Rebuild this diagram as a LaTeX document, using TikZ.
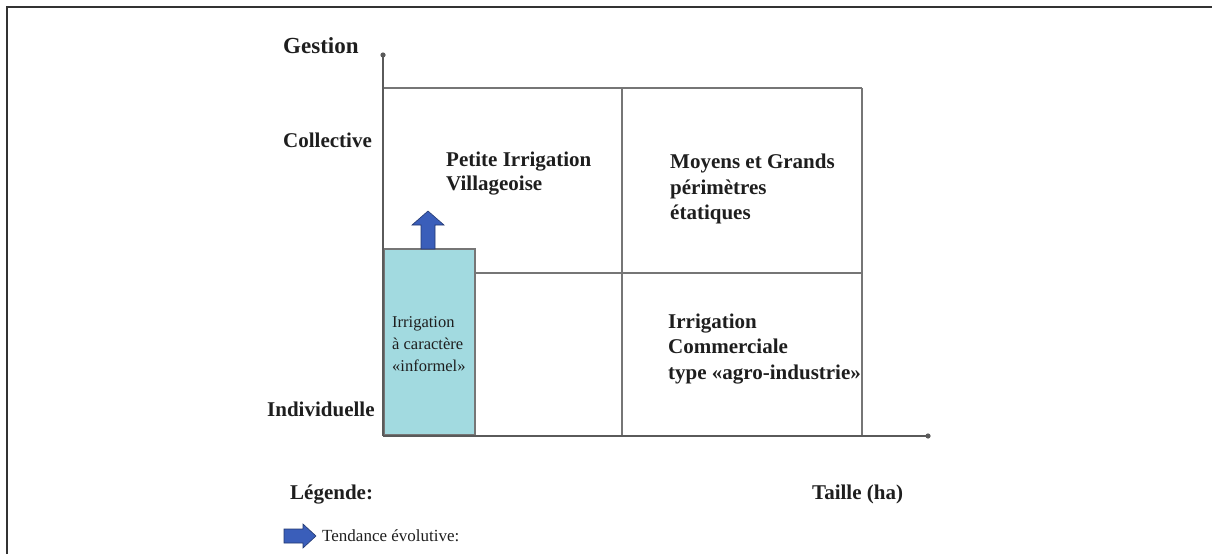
\documentclass[tikz,border=0pt]{standalone}
\usepackage{fontspec}
\setmainfont{Liberation Serif}
\definecolor{gridc}{HTML}{767676}
\definecolor{axisc}{HTML}{5A5A5A}
\definecolor{boxfill}{HTML}{A2DAE0}
\definecolor{arrowblue}{HTML}{3A5EBA}
\definecolor{txt}{HTML}{1E1E1E}
\begin{document}
\begin{tikzpicture}[x=1pt,y=-1pt,
  lbl/.style={inner sep=0pt,anchor=base west,text=txt,font=\fontsize{21}{24}\selectfont\bfseries},
  reg/.style={inner sep=0pt,anchor=base west,text=txt,font=\fontsize{16.5}{19}\selectfont},
  gridline/.style={draw=gridc,line width=2.2pt},
  axisline/.style={draw=axisc,line width=1.8pt},
  bluearrow/.style={fill=arrowblue,draw=arrowblue!60!black,line width=0.6pt}]
\useasboundingbox (0,0) rectangle (1212,554);
% frame
\coordinate (fbl) at (7,554);
\coordinate (ftl) at (7,7);
\coordinate (ftr) at (1212,7);
\draw[draw=black!80,line width=2pt] (fbl) -- (ftl) -- (ftr);
% axes
\coordinate (o) at (383,436);
\coordinate (ytop) at (383,55);
\coordinate (xend) at (928,436);
% blue box
\node[draw=gridc,line width=1.8pt,fill=boxfill,minimum width=91pt,minimum height=186pt,inner sep=0pt,anchor=south west] (box) at (383,436) {};
% grid
\coordinate (tl) at (383,88);
\coordinate (tm) at (622,88);
\coordinate (tr) at (862,88);
\coordinate (bm) at (622,436);
\coordinate (br) at (862,436);
\coordinate (ml) at (474,273);
\coordinate (mr) at (862,273);
\draw[gridline] (tl) -- (tr);
\draw[gridline] (tm) -- (bm);
\draw[gridline] (tr) -- (br);
\draw[gridline] (ml) -- (mr);
\draw[axisline] (o) -- (ytop);
\draw[axisline] (o) -- (xend);
\fill[axisc] (ytop) circle (2.6pt);
\fill[axisc] (xend) circle (2.6pt);
% up arrow
\draw[bluearrow] (421,249) -- (421,225) -- (412,225) -- (428,211) -- (444,225) -- (435,225) -- (435,249) -- cycle;
% legend arrow
\draw[bluearrow] (284,529) -- (303,529) -- (303,524) -- (316,536) -- (303,548) -- (303,543) -- (284,543) -- cycle;
% labels
\node[lbl,font=\fontsize{23}{26}\selectfont\bfseries] (gestion) at (283,53) {Gestion};
\node[lbl] (collective) at (283,147) {Collective};
\node[lbl] (indiv) at (267,416) {Individuelle};
\node[lbl] (legende) at (290,499) {Légende:};
\node[lbl] (taille) at (812,499) {Taille (ha)};
\node[lbl] (piv1) at (446,166) {Petite Irrigation};
\node[lbl] (piv2) at (446,190) {Villageoise};
\node[lbl] (mg1) at (670,168) {Moyens et Grands};
\node[lbl] (mg2) at (670,194) {périmètres};
\node[lbl] (mg3) at (670,219) {étatiques};
\node[lbl] (ic1) at (668,328) {Irrigation};
\node[lbl] (ic2) at (668,353) {Commerciale};
\node[lbl] (ic3) at (668,379) {type «agro-industrie»};
\node[reg] (inf1) at (392,327) {Irrigation};
\node[reg] (inf2) at (392,349) {à caractère};
\node[reg] (inf3) at (392,371) {«informel»};
\node[reg,font=\fontsize{17}{20}\selectfont] (tend) at (322,541) {Tendance évolutive:};
\end{tikzpicture}
\end{document}
